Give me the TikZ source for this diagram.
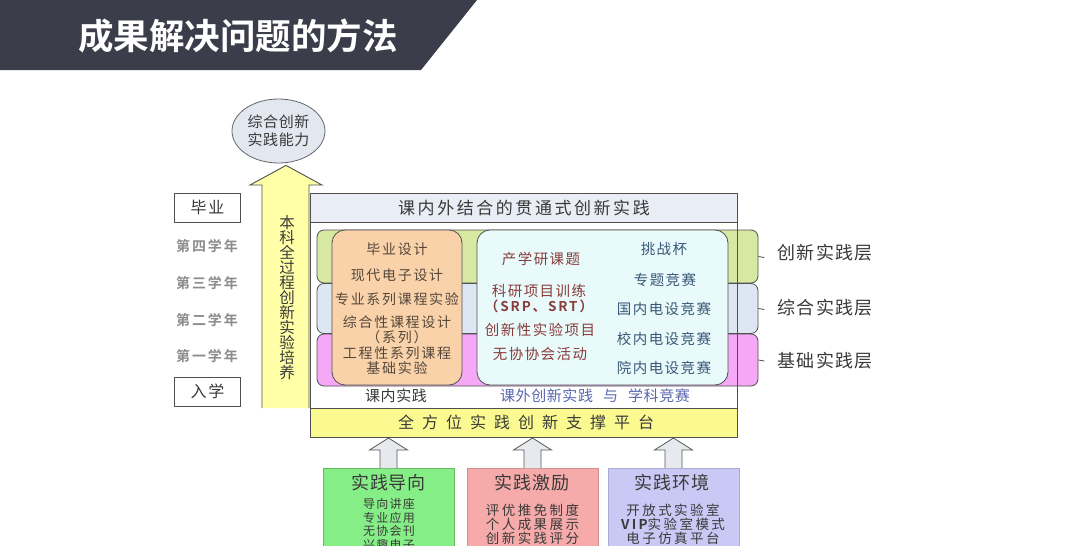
\documentclass[tikz,border=0pt]{standalone}
\usepackage{fontspec}
\setmainfont{Noto Sans CJK SC}[BoldFont={Noto Sans CJK SC Bold}]
\usetikzlibrary{shapes.geometric,calc}
\definecolor{hdr}{HTML}{3C3D4A}
\definecolor{ellfill}{HTML}{E2E7F0}
\definecolor{arrowyel}{HTML}{FFFFA8}
\definecolor{platyel}{HTML}{FAFA90}
\definecolor{hdrfill}{HTML}{E9EDF5}
\definecolor{bandgreen}{HTML}{D6E8A2}
\definecolor{bandblue}{HTML}{DCE7F3}
\definecolor{bandpink}{HTML}{F5A8F5}
\definecolor{orangefill}{HTML}{F9D2AA}
\definecolor{cyanfill}{HTML}{E8FAFA}
\definecolor{txtgray}{HTML}{3A3A3A}
\definecolor{redtxt}{HTML}{8A3C3C}
\definecolor{bluetxt}{HTML}{3A5878}
\definecolor{purpletxt}{HTML}{5A68B0}
\definecolor{boxgreen}{HTML}{86EE86}
\definecolor{boxpink}{HTML}{F6AAAA}
\definecolor{boxpurple}{HTML}{CAC8F4}
\definecolor{hollowfill}{HTML}{E6E9EE}
\definecolor{linegray}{HTML}{505050}
\newcommand\myfs[3]{\fontsize{#1}{#2}\selectfont\addfontfeatures{LetterSpace=#3}}
\tikzset{
  txt/.style={inner sep=0, text=txtgray},
  yearbox/.style={draw=linegray, line width=0.9pt, fill=white, minimum width=66, minimum height=29, inner sep=0, text=txtgray, font=\myfs{16}{18}{12}},
  yearlbl/.style={inner sep=0, text=gray!90, font=\myfs{14}{16}{14}\bfseries},
  band/.style={draw=linegray, line width=0.8pt, rounded corners=7, minimum width=441, inner sep=0},
  layerlbl/.style={inner sep=0, anchor=west, text=txtgray, font=\myfs{18}{20}{8}},
  innerbox/.style={draw=linegray, line width=0.8pt, rounded corners=13, inner sep=0},
  otxt/.style={inner sep=0, text=txtgray!80!brown, font=\myfs{14}{16}{12}},
  ltxt/.style={inner sep=0, text=redtxt, font=\myfs{14.5}{17}{10}},
  rtxt/.style={inner sep=0, text=bluetxt, font=\myfs{14.5}{17}{10}},
  botbox/.style={minimum width=131, minimum height=100, inner sep=0, anchor=north, line width=0.6pt},
  bottitle/.style={inner sep=0, text=txtgray, font=\myfs{18}{20}{5}},
  tick/.style={draw=linegray, line width=0.8pt},
  uparr/.pic={
    \draw[draw=gray!70!black, fill=hollowfill, line width=0.8pt, line join=miter]
      (-8.5,0) -- (-8.5,-18) -- (-19,-18) -- (0,-30) -- (19,-18) -- (8.5,-18) -- (8.5,0);
  }
}
\begin{document}
\begin{tikzpicture}[x=1pt,y=-1pt]
\useasboundingbox (0,0) rectangle (1080,546);
\clip (0,0) rectangle (1080,546);
\fill[white] (0,0) rectangle (1080,546);

% title bar
\fill[hdr] (0,0) -- (477,0) -- (421,70) -- (0,70) -- cycle;
\node[inner sep=0, text=white, font=\fontsize{35.5}{40}\selectfont\bfseries] (title) at (238,36) {成果解决问题的方法};

% goal ellipse
\node[ellipse, draw=gray!80!black, line width=0.8pt, fill=ellfill, minimum width=93, minimum height=64, inner sep=0, align=center, text=txtgray, font=\myfs{15}{18}{4}] (goal) at (278.5,131) {综合创新\\实践能力};

% big arrow
\coordinate (tip) at ($(goal.south)+(7.5,2)$);
\draw[draw=linegray, fill=arrowyel, line width=0.9pt, line join=miter]
  (262,408) -- (262,185) -- (250,185) -- (tip) -- (322,185) -- (309,185) -- (309,408);
\node[inner sep=0, align=center, text=txtgray, font=\fontsize{15.5}{15}\selectfont] (proc) at (287,298)
  {本\\科\\全\\过\\程\\创\\新\\实\\验\\培\\养};

% year column
\node[yearbox] (grad) at (207.5,207.5) {毕业};
\node[yearbox] (enter) at (207.5,391.5) {入学};
\node[yearlbl] (y4) at (207,246) {第四学年};
\node[yearlbl] (y3) at (207,283) {第三学年};
\node[yearlbl] (y2) at (207,320) {第二学年};
\node[yearlbl] (y1) at (207,356) {第一学年};

% frame background
\fill[white] (310,193) rectangle (737,437);
\fill[hdrfill] (310,193) rectangle (737,222);
\fill[platyel] (310,408) rectangle (737,437);

% bands
\node[band, fill=bandgreen, minimum height=53] (bG) at (537.5,256.5) {};
\node[band, fill=bandblue, minimum height=50] (bB) at (537.5,308.5) {};
\node[band, fill=bandpink, minimum height=52] (bP) at (537.5,360) {};
\draw[tick] (bG.east) -- ++(6,1);
\draw[tick] (bB.east) -- ++(6,1);
\draw[tick] (bP.east) -- ++(6,1);
\node[layerlbl] (lG) at (777,253) {创新实践层};
\node[layerlbl] (lB) at (777,308) {综合实践层};
\node[layerlbl] (lP) at (777,361) {基础实践层};

% inner boxes
\node[innerbox, fill=orangefill, minimum width=130, minimum height=155] (ob) at (397,307.5) {};
\node[innerbox, fill=cyanfill, minimum width=251, minimum height=155] (cb) at (602.5,307.5) {};

% frame outline
\draw[linegray, line width=0.9pt] (310,193) rectangle (737,437);
\draw[linegray, line width=0.9pt] (310,222) -- (737,222);
\draw[linegray, line width=0.9pt] (310,408) -- (737,408);

\node[txt, font=\myfs{17}{19}{15}] (hd) at (524,207.5) {课内外结合的贯通式创新实践};
\node[txt, font=\myfs{16}{18}{50}] (plat) at (526,422.5) {全方位实践创新支撑平台};

% orange box text
\node[otxt] (o1) at (397,249) {毕业设计};
\node[otxt] (o2) at (397,275) {现代电子设计};
\node[otxt] (o3) at (397,299) {专业系列课程实验};
\node[otxt] (o4) at (397,322) {综合性课程设计};
\node[otxt] (o5) at (397,337) {（系列）};
\node[otxt] (o6) at (397,353) {工程性系列课程};
\node[otxt] (o7) at (397,368) {基础实验};

% cyan box text
\node[ltxt] (c1) at (541,259) {产学研课题};
\node[ltxt] (c2) at (539,291) {科研项目训练};
\node[ltxt, font=\myfs{13.5}{16}{14}\bfseries] (c3) at (539,306) {（SRP、SRT）};
\node[ltxt] (c4) at (540,330) {创新性实验项目};
\node[ltxt] (c5) at (540,354) {无协协会活动};
\node[rtxt] (d1) at (664,249) {挑战杯};
\node[rtxt] (d2) at (665,280) {专题竞赛};
\node[rtxt] (d3) at (664,309) {国内电设竞赛};
\node[rtxt] (d4) at (664,339) {校内电设竞赛};
\node[rtxt] (d5) at (664,368) {院内电设竞赛};

\node[txt, font=\myfs{15}{17}{4}] (k1) at (396,396) {课内实践};
\node[txt, text=purpletxt, font=\myfs{15}{17}{4}] (k2) at (595,396) {课外创新实践\hspace{10pt}与\hspace{10pt}学科竞赛};

% bottom boxes
\node[botbox, fill=boxgreen, draw=green!55!black!60] (g) at (388.5,468) {};
\node[botbox, fill=boxpink, draw=boxpink!85!black] (p) at (532.5,468) {};
\node[botbox, fill=boxpurple, draw=boxpurple!85!black] (v) at (673.5,468) {};
\pic at (g.north) {uparr};
\pic at (p.north) {uparr};
\pic at (v.north) {uparr};

\node[bottitle] (gt) at (388.5,483) {实践导向};
\node[bottitle] (pt) at (532,483) {实践激励};
\node[bottitle] (vt) at (672,483) {实践环境};
\node[txt, align=center, font=\myfs{12}{13.5}{10}] (gl) at (389,524.5) {导向讲座\\专业应用\\无协会刊\\兴趣电子};
\node[txt, align=center, font=\myfs{13.5}{14}{18}] (pl) at (532.5,524) {评优推免制度\\个人成果展示\\创新实践评分};
\node[txt, align=center, font=\myfs{13.5}{14}{18}] (vl) at (673,524) {开放式实验室\\{\bfseries VIP}实验室模式\\电子仿真平台};
\end{tikzpicture}
\end{document}
